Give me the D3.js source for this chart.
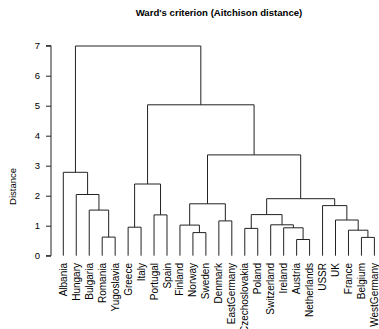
<!DOCTYPE html>
<html>
<head>
<meta charset="utf-8">
<script src="https://cdn.jsdelivr.net/npm/d3@7"></script>
<style>
  html, body { margin: 0; padding: 0; background: #fff; }
  svg { display: block; }
  text { font-family: "Liberation Sans", Arial, Helvetica, sans-serif; fill: #000; }
</style>
</head>
<body>
<svg id="chart" width="379" height="329"></svg>
<script>
// Leaf labels in dendrogram order
const leaves = ["Albania", "Hungary", "Bulgaria", "Romania", "Yugoslavia", "Greece", "Italy",
  "Portugal", "Spain", "Finland", "Norway", "Sweden", "Denmark", "EastGermany",
  "Czechoslovakia", "Poland", "Switzerland", "Ireland", "Austria", "Netherlands",
  "USSR", "UK", "France", "Belgium", "WestGermany"];

// Merge steps (hclust convention): negative = leaf number, positive = earlier merge
const mergeLeft  = [-19, -4, -24, -11, -23, -15, -18, -6, -10, -17, -13, -22, -8, 6, -3, -21, 9, 14, -2, 8, -1, 17, 20, 21];
const mergeRight = [-20, -5, -25, -12, 3, -16, 1, -7, 4, 7, -14, 5, -9, 10, 2, 12, 11, 16, 15, 13, 19, 18, 22, 23];
const mergeHeight = [0.54, 0.62, 0.61, 0.77, 0.85, 0.91, 0.93, 0.95, 1.02, 1.03, 1.16, 1.19,
  1.36, 1.37, 1.52, 1.67, 1.73, 1.90, 2.04, 2.39, 2.78, 3.36, 5.03, 6.99];

const yTicks = [0, 1, 2, 3, 4, 5, 6, 7];
const title = "Ward's criterion (Aitchison distance)";
const yLabel = "Distance";

// Build a nested tree from the merge table
function node(id) {
  if (id < 0) return { name: leaves[-id - 1], height: 0 };
  const k = id - 1;
  return { height: mergeHeight[k], children: [node(mergeLeft[k]), node(mergeRight[k])] };
}
const root = d3.hierarchy(node(mergeLeft.length));

const svg = d3.select("#chart");
const lineColor = "#222";

const x = d3.scaleLinear().domain([0, leaves.length - 1]).range([63.3, 374.4]);
const y = d3.scaleLinear().domain([0, 7]).range([255.7, 45.7]);

// x position: leaves evenly spaced, inner nodes at the mean of their two children
root.eachAfter(d => {
  if (!d.children) d.px = x(leaves.indexOf(d.data.name));
  else d.px = (d.children[0].px + d.children[1].px) / 2;
  d.py = y(d.data.height);
});

const g = svg.append("g");
root.each(d => {
  if (!d.children) return;
  const [a, b] = d.children;
  const path = d3.path();
  path.moveTo(a.px, a.py);
  path.lineTo(a.px, d.py);
  path.lineTo(b.px, d.py);
  path.lineTo(b.px, b.py);
  g.append("path")
    .attr("d", path.toString())
    .attr("fill", "none")
    .attr("stroke", lineColor)
    .attr("stroke-width", 1);
});

// Y axis
const axis = d3.axisLeft(y).tickValues(yTicks).tickSize(5).tickPadding(6).tickFormat(d3.format("d"));
const ax = svg.append("g").attr("transform", "translate(51,0)").call(axis);
ax.select(".domain").attr("d", `M-5,${y(0)}H0V${y(7)}H-5`).attr("stroke", lineColor);
ax.selectAll(".tick line").attr("stroke", lineColor);
ax.selectAll(".tick text")
  .attr("font-family", "Liberation Sans, Arial, sans-serif")
  .attr("font-size", 9.5)
  .attr("fill", "#000");

// Leaf labels, rotated
root.leaves().forEach(d => {
  svg.append("text")
    .attr("transform", `translate(${d.px + 3.5},263) rotate(-90)`)
    .attr("text-anchor", "end")
    .attr("font-size", 10)
    .text(d.data.name);
});

// Y axis title
svg.append("text")
  .attr("transform", "translate(15.5,186.5) rotate(-90)")
  .attr("text-anchor", "middle")
  .attr("font-size", 9.5)
  .text(yLabel);

// Chart title
svg.append("text")
  .attr("x", 219)
  .attr("y", 16)
  .attr("text-anchor", "middle")
  .attr("font-size", 9.6)
  .attr("font-weight", "bold")
  .text(title);
</script>
</body>
</html>
